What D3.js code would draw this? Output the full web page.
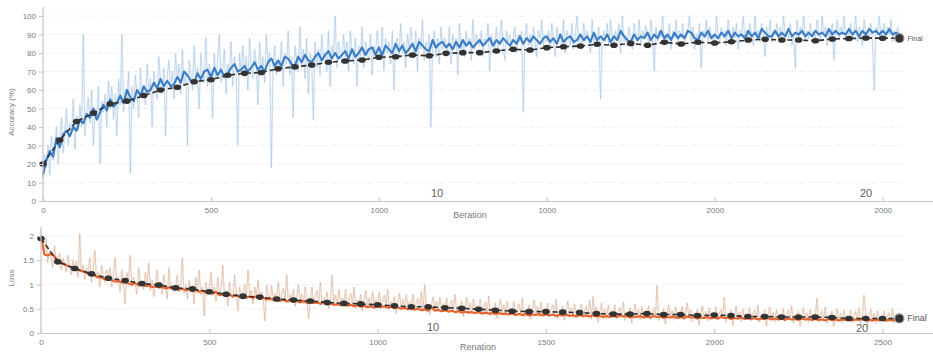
<!DOCTYPE html>
<html><head><meta charset="utf-8">
<script src="https://cdn.jsdelivr.net/npm/d3@7"></script>
<style>
html,body{margin:0;padding:0;background:#fff;}
svg{display:block;font-family:"Liberation Sans",Arial,sans-serif;}
</style></head>
<body>
<svg id="c" width="933" height="352"></svg>
<script>
// ---- data ----
const STEP = 10;        // iterations between smoothed samples
const RAW_STEP = 5;     // iterations between raw samples
const VAL_STEP = 50;    // iterations between validation points
const tickValues = [0, 500, 1000, 1500, 2000, 2500];
const topTickLabels = ["0", "500", "1000", "1000", "2000", "2000"];
const bottomTickLabels = ["0", "500", "1000", "1500", "2000", "2500"];
const accTicks = [0,10,20,30,40,50,60,70,80,90,100];
const lossTicks = [0,0.5,1,1.5,2];
const lossTickLabels = ["0","0.5","1","1.5","2"];
const epochLabels = ["10","20"];

const accSmooth = [
14,22,27,24,34,29,36,38,35,40,
38,44,42,47,45,50,44,48,52,49,
55,51,53,57,53,60,56,54,60,57,
62,59,60,64,61,66,62,65,62,63,
67,64,70,68,65,64,69,66,70,71,
67,72,68,71,67,69,72,74,70,71,
73,70,72,75,71,73,70,75,77,73,
76,73,78,77,74,73,78,75,79,76,
75,78,80,76,79,81,77,80,77,79,
81,77,82,78,80,83,79,82,83,79,
83,79,84,82,80,85,81,84,80,82,
85,81,86,84,82,81,87,83,85,86,
83,85,82,86,83,87,84,86,83,85,
87,84,86,88,84,87,85,88,86,84,
87,85,89,85,88,86,89,87,85,88,
89,86,88,85,90,86,88,89,86,87,
90,87,89,86,91,87,89,87,90,86,
89,87,92,89,87,86,90,87,89,88,
91,87,90,88,92,88,90,87,91,88,
90,88,92,91,88,87,91,89,92,88,
90,88,91,89,92,88,91,89,90,88,
92,89,91,88,93,91,89,89,92,89,
91,89,93,89,91,90,92,89,91,89,
92,90,91,89,93,90,92,90,91,90,
93,90,92,89,92,90,93,91,92,90,
92,90,93,90,91,90];

const accRaw = [
12,25,18,30,14,35,22,28,40,20,33,45,26,38,50,30,42,36,55,28,
46,38,52,40,90,35,48,56,42,60,30,50,45,62,20,54,48,58,40,65,
50,62,44,58,35,66,52,90,48,60,55,70,15,62,50,68,58,45,72,56,
60,52,74,58,66,40,70,62,55,78,64,58,72,35,68,76,60,70,55,80,
66,74,58,82,62,70,30,76,68,60,84,66,72,50,80,70,64,88,62,74,
70,45,80,66,76,90,64,72,82,58,74,68,86,62,78,72,30,80,70,84,
68,78,60,88,72,66,82,74,52,86,70,78,64,90,74,80,18,72,84,68,
76,70,86,62,80,74,92,68,78,45,84,76,70,94,72,82,66,88,58,80,
76,44,86,72,82,68,90,76,80,70,92,62,84,78,100,72,86,80,74,90,
78,86,70,92,80,74,88,62,84,78,94,72,86,80,76,90,68,84,80,92,
82,76,94,70,88,80,86,74,92,60,84,88,78,96,80,86,72,90,82,94,
84,78,92,70,88,82,98,76,86,80,90,40,84,92,78,88,74,94,82,88,
86,80,94,74,90,84,88,68,96,82,86,78,92,84,88,76,98,82,90,86,
84,92,78,88,84,96,70,90,86,82,94,80,88,98,84,76,92,86,90,82,
88,94,80,90,86,92,48,88,96,84,90,80,94,86,78,92,88,98,84,90,
86,92,82,96,88,78,94,86,90,84,98,80,92,88,84,96,82,90,100,86,
90,82,96,86,92,88,80,98,86,90,84,94,55,88,92,86,96,84,98,88,
84,92,88,96,80,100,86,90,84,94,88,82,96,90,86,98,84,92,88,95,
90,84,98,88,70,94,86,92,88,100,84,90,86,96,82,92,88,98,86,92,
88,96,84,90,92,100,86,94,82,90,88,96,72,92,88,98,86,94,90,88,
84,100,90,86,94,88,92,84,98,90,86,94,88,96,82,92,90,100,86,92,
88,96,90,84,100,88,92,86,96,90,78,94,88,98,86,92,90,96,88,94,
86,100,90,92,88,96,84,90,72,98,88,94,90,100,86,92,88,96,90,92,
88,98,90,86,100,90,94,84,92,88,96,76,90,98,88,94,90,100,86,92,
90,96,88,92,100,86,94,90,84,98,90,92,88,96,86,60,94,90,100,88,
92,96,88,94,90,98,86,92,90,94,90];

const accVal = [20,33,43,47.5,52.5,54,57,60,61.5,64.5,65.5,68,69,69.5,71.5,72.5,73.5,75,75.7,76.2,
77.7,78,78.9,78.5,79.8,80.2,80.2,81.1,82,81.6,82.9,83.4,83.8,84.7,84.2,85.2,84.2,85.8,84.9,85.8,
85.4,86.1,87,87.4,87,87,86.6,87.6,87.8,88.1,88,88];

const lossSmooth = [
2.00,1.62,1.60,1.63,1.58,1.50,1.44,1.42,1.38,1.36,
1.33,1.30,1.28,1.26,1.22,1.20,1.18,1.15,1.14,1.11,
1.12,1.09,1.06,1.07,1.04,1.05,1.02,1.00,1.03,0.98,
0.99,0.97,0.98,0.95,0.96,0.94,0.95,0.92,0.94,0.91,
0.92,0.89,0.91,0.88,0.90,0.86,0.88,0.85,0.87,0.83,
0.84,0.81,0.85,0.78,0.80,0.77,0.79,0.75,0.78,0.74,
0.76,0.73,0.75,0.72,0.76,0.70,0.73,0.69,0.71,0.68,
0.70,0.66,0.69,0.65,0.68,0.64,0.66,0.63,0.66,0.62,
0.64,0.62,0.63,0.60,0.64,0.59,0.61,0.58,0.60,0.57,
0.59,0.56,0.58,0.55,0.57,0.54,0.56,0.53,0.55,0.52,
0.56,0.53,0.55,0.52,0.54,0.51,0.53,0.50,0.52,0.49,
0.51,0.48,0.50,0.47,0.49,0.46,0.53,0.46,0.48,0.45,
0.47,0.44,0.46,0.43,0.45,0.42,0.44,0.42,0.43,0.41,
0.43,0.40,0.42,0.40,0.41,0.39,0.41,0.39,0.40,0.38,
0.40,0.37,0.39,0.37,0.39,0.36,0.38,0.37,0.39,0.36,
0.38,0.36,0.38,0.35,0.37,0.36,0.38,0.35,0.37,0.34,
0.37,0.35,0.36,0.34,0.36,0.34,0.35,0.33,0.35,0.33,
0.35,0.33,0.36,0.34,0.35,0.32,0.34,0.33,0.35,0.32,
0.34,0.32,0.35,0.33,0.34,0.31,0.33,0.32,0.34,0.31,
0.33,0.31,0.34,0.32,0.33,0.30,0.32,0.31,0.33,0.30,
0.32,0.30,0.33,0.31,0.32,0.29,0.31,0.30,0.32,0.29,
0.31,0.29,0.31,0.28,0.30,0.29,0.31,0.28,0.30,0.28,
0.30,0.27,0.30,0.28,0.29,0.27,0.30,0.28,0.29,0.27,
0.29,0.27,0.28,0.26,0.29,0.27,0.28,0.26,0.28,0.27,
0.28,0.26,0.28,0.27,0.29,0.26,0.27,0.26,0.28,0.26,
0.28,0.26,0.27,0.26,0.28,0.27];

const lossRaw = [
2.10,1.85,1.60,1.95,1.45,1.70,1.55,1.35,1.80,1.50,1.40,1.65,1.30,1.55,1.42,1.25,1.60,1.38,1.20,1.50,
1.30,1.48,1.15,2.05,1.25,1.40,1.10,1.35,1.20,1.55,1.05,1.30,1.70,1.12,1.25,0.95,1.40,1.18,1.05,1.30,
1.10,1.35,0.95,1.20,1.55,1.05,1.15,0.85,1.30,1.00,0.60,1.25,1.05,1.60,0.95,1.15,1.00,0.80,1.35,0.98,
1.05,0.90,1.25,0.95,1.45,0.88,1.10,0.75,1.00,1.30,0.92,1.05,0.80,1.20,0.95,0.70,1.35,0.90,1.00,0.85,
0.95,1.20,0.85,1.00,1.55,0.82,0.98,0.70,1.10,0.88,0.95,0.60,1.15,0.85,1.30,0.78,0.95,0.35,1.05,0.82,
0.90,1.25,0.78,0.95,0.65,1.15,0.82,0.92,1.40,0.75,0.88,0.55,1.05,0.80,0.72,1.20,0.85,0.45,0.95,0.78,
0.82,1.00,0.70,1.30,0.78,0.88,0.60,0.95,0.75,1.10,0.68,0.85,0.72,0.25,1.00,0.78,0.65,0.98,0.72,0.80,
0.72,1.05,0.65,0.80,0.92,0.68,1.20,0.62,0.78,0.70,0.90,0.55,0.75,1.00,0.66,0.80,0.60,0.95,0.70,0.30,
0.68,0.95,0.60,0.75,0.88,0.62,1.05,0.58,0.72,0.65,0.85,0.50,0.70,1.20,0.62,0.78,0.55,0.90,0.64,0.72,
0.62,0.90,0.55,0.70,0.82,0.58,0.95,0.50,0.68,0.60,0.80,0.45,0.66,0.88,0.56,0.72,0.52,0.85,0.60,0.68,
0.58,0.85,0.50,0.66,0.78,0.54,0.90,0.48,0.64,0.56,0.75,0.40,0.62,0.82,0.52,0.70,0.48,0.80,0.55,0.64,
0.54,0.80,0.46,0.62,0.72,0.50,0.85,0.44,1.00,0.52,0.60,0.38,0.58,0.75,0.48,0.66,0.44,0.74,0.50,0.60,
0.50,0.72,0.42,0.58,0.68,0.46,0.80,0.40,0.55,0.48,0.66,0.34,0.54,0.74,0.44,0.62,0.40,0.70,0.46,0.56,
0.46,0.70,0.38,0.54,0.64,0.42,0.76,0.36,0.52,0.44,0.62,0.30,0.50,0.70,0.40,0.58,0.36,0.66,0.42,0.52,
0.44,0.66,0.35,0.50,0.60,0.40,0.72,0.33,0.48,0.42,0.58,0.28,0.47,0.68,0.37,0.55,0.33,0.64,0.40,0.50,
0.42,0.62,0.33,0.48,0.58,0.37,0.70,0.30,0.46,0.40,0.56,0.26,0.45,0.66,0.35,0.52,0.31,0.60,0.38,0.48,
0.40,0.60,0.31,0.46,0.55,0.35,0.68,0.28,0.75,0.38,0.54,0.22,0.43,0.62,0.33,0.50,0.29,0.58,0.36,0.45,
0.38,0.58,0.29,0.44,0.52,0.33,0.64,0.26,0.42,0.36,0.52,0.20,0.41,0.60,0.31,0.48,0.27,0.55,0.34,0.43,
0.37,0.56,0.28,0.42,0.50,0.32,0.98,0.25,0.40,0.35,0.50,0.18,0.40,0.58,0.30,0.46,0.26,0.54,0.33,0.42,
0.36,0.55,0.27,0.41,0.62,0.31,0.48,0.24,0.39,0.34,0.49,0.16,0.38,0.56,0.29,0.45,0.25,0.52,0.32,0.40,
0.35,0.54,0.26,0.40,0.48,0.30,0.74,0.23,0.38,0.33,0.48,0.15,0.37,0.55,0.28,0.44,0.24,0.50,0.31,0.39,
0.34,0.52,0.25,0.39,0.47,0.29,0.58,0.22,0.37,0.32,0.47,0.14,0.36,0.54,0.27,0.43,0.23,0.49,0.30,0.38,
0.33,0.50,0.24,0.38,0.46,0.28,0.56,0.21,0.36,0.31,0.46,0.14,0.35,0.52,0.26,0.42,0.22,0.48,0.29,0.37,
0.32,0.72,0.23,0.37,0.45,0.27,0.54,0.20,0.35,0.30,0.45,0.13,0.34,0.50,0.25,0.41,0.21,0.47,0.28,0.36,
0.31,0.48,0.22,0.36,0.44,0.26,0.52,0.20,0.34,0.78,0.44,0.13,0.33,0.49,0.24,0.40,0.20,0.46,0.27,0.35,
0.30,0.46,0.22,0.35,0.42,0.25,0.50,0.20,0.34,0.28,0.30];

const lossVal = [1.95,1.47,1.33,1.22,1.13,1.08,1.02,0.99,0.93,0.91,0.85,0.80,0.76,0.74,0.70,0.68,0.66,0.63,0.61,0.60,
0.58,0.56,0.54,0.54,0.52,0.51,0.49,0.47,0.45,0.44,0.44,0.43,0.42,0.40,0.39,0.39,0.40,0.38,0.38,0.36,
0.37,0.36,0.34,0.34,0.33,0.33,0.33,0.32,0.30,0.30,0.30,0.30];

// ---- drawing ----
const svg = d3.select("#c");
const C = {axis:"#c4c4c4", text:"#7a7a7a", grid:"#ececec"};

function panel(o){
  const x = d3.scaleLinear().domain([0,2650]).range([o.x0, 933]);
  const y = d3.scaleLinear().domain(o.yDomain).range([o.yBottom, o.yTop]);
  const g = svg.append("g");
  // grid
  g.append("g").selectAll("line").data(o.yTicks.slice(1)).join("line")
    .attr("x1", o.x0).attr("x2", x(2560)).attr("y1", d=>y(d)).attr("y2", d=>y(d))
    .attr("stroke", C.grid).attr("stroke-width",0.8).attr("stroke-dasharray","6,3");
  // raw (soft haze + thin line)
  const rawLine = d3.line().x((d,i)=>x(i*RAW_STEP)).y(d=>y(d));
  g.append("path").datum(o.raw).attr("d", rawLine).attr("fill","none")
    .attr("stroke", o.rawColor).attr("stroke-width",2.4).attr("stroke-opacity",0.13);
  g.append("path").datum(o.raw).attr("d", rawLine).attr("fill","none")
    .attr("stroke", o.rawColor).attr("stroke-width",0.8).attr("stroke-opacity",0.7);
  // smoothed
  const line = d3.line().x((d,i)=>x(i*STEP)).y(d=>y(d));
  g.append("path").datum(o.smooth).attr("d", line).attr("fill","none")
    .attr("stroke", o.color).attr("stroke-width",2.1).attr("stroke-linejoin","round");
  // validation
  const vline = d3.line().x((d,i)=>x(i*VAL_STEP)).y(d=>y(d));
  g.append("path").datum(o.val).attr("d", vline).attr("fill","none")
    .attr("stroke","#2e2e2e").attr("stroke-width",1.6).attr("stroke-dasharray","5,3");
  g.append("g").selectAll("ellipse").data(o.val.slice(0,-1)).join("ellipse")
    .attr("cx",(d,i)=>x(i*VAL_STEP)).attr("cy",d=>y(d)).attr("rx",3.8).attr("ry",2.8)
    .attr("fill","#333");
  const last = o.val.length-1;
  g.append("circle").attr("cx", x(last*VAL_STEP)).attr("cy", y(o.val[last])).attr("r",4.5)
    .attr("fill","#333").attr("stroke","#999").attr("stroke-width",1.2);
  g.append("text").attr("x", x(last*VAL_STEP)+8).attr("y", y(o.val[last])+3)
    .attr("font-size", o.finalSize).attr("fill","#555").text("Final");
  // axes
  const xa = g.append("g").attr("transform",`translate(0,${o.yBottom})`)
    .call(d3.axisBottom(x).tickValues(tickValues).tickSizeInner(-4).tickSizeOuter(0)
      .tickFormat((d,i)=>o.xLabels[i]));
  const ya = g.append("g").attr("transform",`translate(${o.x0},0)`)
    .call(d3.axisLeft(y).tickValues(o.yTicks).tickSizeInner(4).tickSizeOuter(0)
      .tickFormat((d,i)=>o.yLabels[i]));
  [xa,ya].forEach(a=>{
    a.select(".domain").attr("stroke",C.axis).attr("stroke-width",1.2);
    a.selectAll(".tick line").attr("stroke",C.axis);
    a.selectAll(".tick text").attr("fill",C.text).attr("font-size",8);
  });
  xa.selectAll(".tick text").attr("dy","1.1em");
  ya.select(".domain").attr("d",`M0,${o.yBottom}V${o.yAxisTop}`);
  // labels
  g.append("text").attr("transform",`translate(${o.yLabelX},${o.yLabelY}) rotate(-90)`)
    .attr("text-anchor","middle").attr("font-size",8).attr("fill",C.text).text(o.yTitle);
  g.append("text").attr("x",o.xTitleX).attr("y",o.xTitleY).attr("text-anchor","middle")
    .attr("font-size",9).attr("fill",C.text).text(o.xTitle);
  o.epochPos.forEach((p,i)=>{
    g.append("text").attr("x",p[0]).attr("y",p[1]).attr("text-anchor","middle")
      .attr("font-size",11).attr("fill","#606060").text(epochLabels[i]);
  });
}

panel({x0:43, yDomain:[0,100], yBottom:201, yTop:16, yAxisTop:7,
  yTicks:accTicks, yLabels:accTicks.map(String), xLabels:topTickLabels,
  raw:accRaw, smooth:accSmooth, val:accVal, color:"#3a7cc6", rawColor:"#9ec0e2",
  finalSize:7, yTitle:"Accuracy (%)", yLabelX:14, yLabelY:112,
  xTitle:"Beration", xTitleX:470, xTitleY:218, epochPos:[[437,197],[866,197]]});

panel({x0:41, yDomain:[0,2], yBottom:333, yTop:236, yAxisTop:227,
  yTicks:lossTicks, yLabels:lossTickLabels, xLabels:bottomTickLabels,
  raw:lossRaw, smooth:lossSmooth, val:lossVal, color:"#e8602a", rawColor:"#d6a88e",
  finalSize:9, yTitle:"Loss", yLabelX:14, yLabelY:278,
  xTitle:"Renation", xTitleX:478, xTitleY:350, epochPos:[[433,331],[862,332]]});
</script>
</body></html>
